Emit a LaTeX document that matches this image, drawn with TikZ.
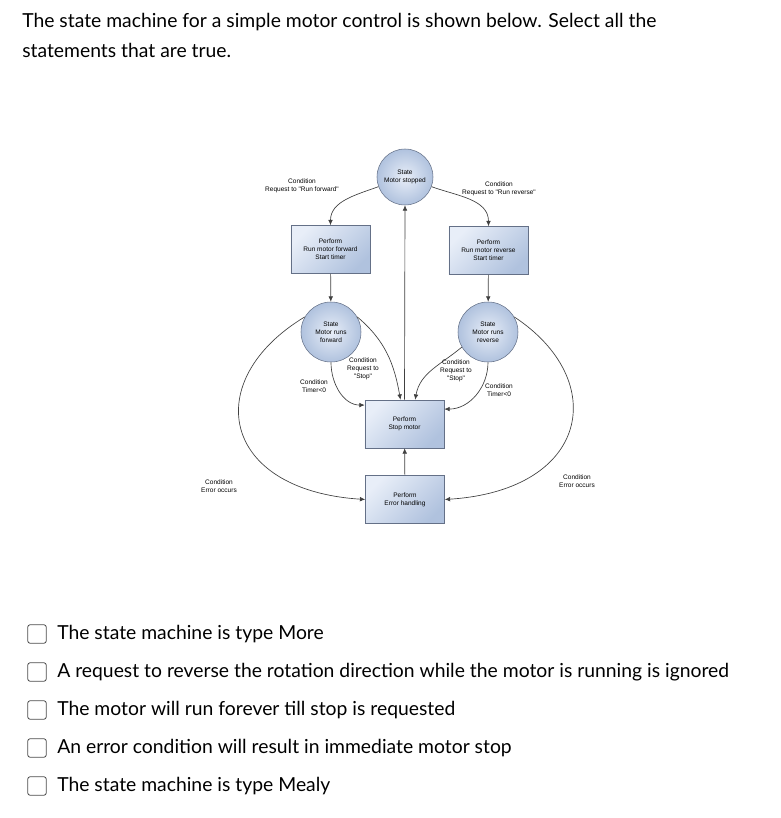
\documentclass[tikz,border=0pt]{standalone}
\usepackage{fontspec}
\setmainfont{Lato}
\newfontfamily\diag{Liberation Sans}
\usetikzlibrary{arrows.meta}
\definecolor{lb}{RGB}{232,238,248}
\definecolor{db}{RGB}{176,194,222}
\definecolor{bd}{RGB}{100,112,135}
\begin{document}
\begin{tikzpicture}[x=0.75pt,y=-0.75pt,
 dfont/.style={font=\diag\fontsize{4.9}{6}\selectfont},
 box/.style={draw=bd,left color=lb,right color=db,shading angle=45,minimum width=59.3pt,minimum height=36pt,inner sep=0pt,align=center,dfont},
 st/.style={circle,draw=bd,inner color=lb,outer color=db,minimum size=42pt,inner sep=0pt,align=center,dfont},
 lab/.style={align=center,dfont,inner sep=0pt},
 ar/.style={draw=black!75,line width=0.5pt,-{Latex[length=4pt,width=3.5pt]}},
 qtext/.style={anchor=west,font=\fontsize{14.5}{17}\selectfont,inner sep=0pt},
 cb/.style={draw=black!70,rounded corners=2pt,minimum width=14pt,minimum height=14pt,inner sep=0pt,line width=0.6pt}]
\useasboundingbox (0,0) rectangle (781,818);
\node[qtext] (h1) at (22,22) {The state machine for a simple motor control is shown below. Select all the};
\node[qtext] (h2) at (22,50) {statements that are true.};

\node[st] (s0) at (405,177) {State\\Motor stopped};
\node[box] (pf) at (330.5,249.5) {Perform\\Run motor forward\\Start timer};
\node[box] (pr) at (488.5,250.5) {Perform\\Run motor reverse\\Start timer};
\node[st,minimum size=45pt] (sf) at (331,332) {State\\Motor runs\\forward};
\node[st,minimum size=45pt] (sr) at (488,332) {State\\Motor runs\\reverse};
\node[box] (ps) at (404.5,424) {Perform\\Stop motor};
\node[box] (pe) at (405,499.5) {Perform\\Error handling};

\draw[ar] (s0.200) to[out=200,in=90] (pf.north);
\draw[ar] (s0.340) to[out=-20,in=90] (pr.north);
\draw[ar] (pf) -- (sf);
\draw[ar] (pr) -- (sr);
\draw[ar] (ps.north) -- (s0.south);
\draw[ar] (pe) -- (ps);
\draw[ar] (sf.30) to[out=-40,in=100] ([xshift=-3pt]ps.north);
\draw[ar] (sf.south) to[out=-90,in=180] ([yshift=-4pt]ps.north west);
\draw[ar] (sr.210) to[out=220,in=80] ([xshift=8pt]ps.north);
\draw[ar] (sr.south) to[out=-90,in=0] ([yshift=-7pt]ps.north east);
\draw[ar] (sf.150) .. controls (200,380) and (220,490) .. (pe.west);
\draw[ar] (sr.30) .. controls (610,380) and (590,490) .. (pe.east);

\node[lab] (l1) at (302,186) {Condition\\Request to "Run forward"};
\node[lab] (l2) at (499,189) {Condition\\Request to "Run reverse"};
\node[lab] (l3) at (363,369) {Condition\\Request to\\"Stop"};
\node[lab] (l4) at (314,386) {Condition\\Timer<0};
\node[lab] (l5) at (456,371) {Condition\\Request to\\"Stop"};
\node[lab] (l6) at (499,390) {Condition\\Timer<0};
\node[lab] (l7) at (219,486) {Condition\\Error occurs};
\node[lab] (l8) at (577,481) {Condition\\Error occurs};

\foreach \y/\t [count=\i] in {634/{The state machine is type More},672/{A request to reverse the rotation direction while the motor is running is ignored},710/{The motor will run forever till stop is requested},748/{An error condition will result in immediate motor stop},786/{The state machine is type Mealy}}{
 \node[cb] (c\i) at (37,\y) {};
 \node[qtext] (t\i) at (57,\y) {\t};
}
\end{tikzpicture}
\end{document}
